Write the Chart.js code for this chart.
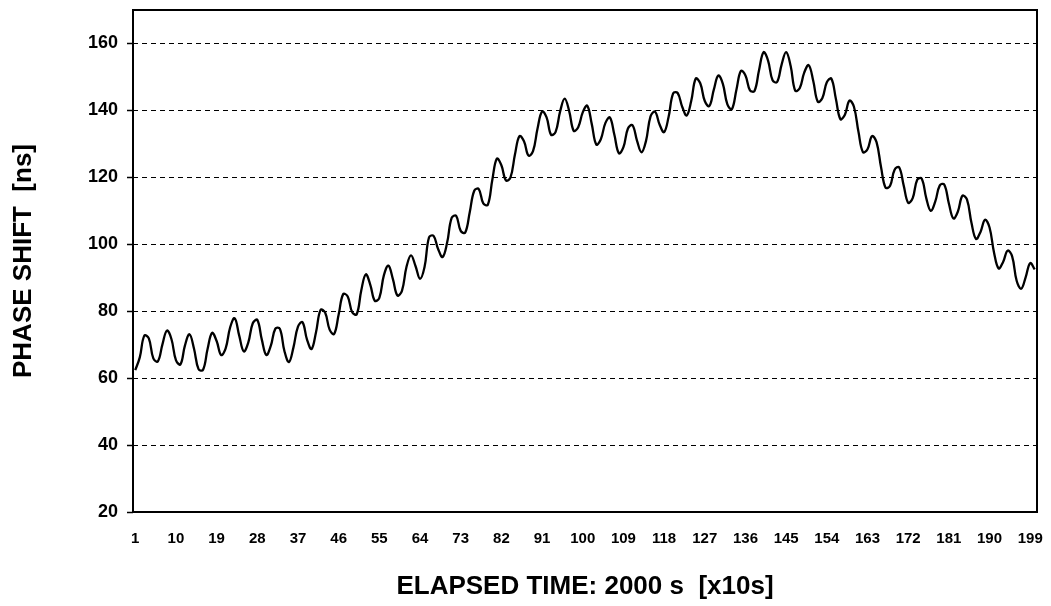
<!DOCTYPE html>
<html>
<head>
<meta charset="utf-8">
<script src="https://cdn.jsdelivr.net/npm/chart.js@4/dist/chart.umd.min.js"></script>
<style>
html,body{margin:0;padding:0;background:#fff;}
canvas{display:block;}
</style>
</head>
<body>
<canvas id="c" width="1051" height="606"></canvas>
<script>
// Categories: sample numbers 1..200 (x10 s)
const categories = [];
for (let i = 1; i <= 200; i++) categories.push(String(i));

// Tick labels shown on the x axis
const xTickLabels = ['1','10','19','28','37','46','55','64','73','82','91','100','109','118','127','136','145','154','163','172','181','190','199'];

// Y-axis tick values
const yTicks = [20, 40, 60, 80, 100, 120, 140, 160];

// Phase shift [ns]
const phaseShift = [
62.4,66.2,72.7,71.9,65.9,65.0,70.0,74.2,71.7,65.4,
64.1,69.8,73.1,68.8,62.7,62.5,68.7,73.5,71.1,66.9,
68.9,75.2,77.9,72.7,68.0,70.6,76.4,77.4,71.5,66.9,
69.7,74.8,74.7,68.1,64.8,69.2,75.4,76.7,71.5,68.7,
73.8,80.4,79.6,74.5,73.2,79.0,85.1,84.4,79.7,79.1,
86.2,91.0,87.9,83.1,84.0,90.7,93.6,89.6,84.7,86.1,
93.2,96.7,93.5,89.7,93.2,102.1,102.5,98.6,96.2,100.5,
107.9,108.5,104.0,103.5,109.6,116.0,116.5,112.2,111.8,119.3,
125.6,123.6,119.1,119.9,126.8,132.3,130.8,126.5,127.8,134.6,
139.7,137.9,132.7,133.6,139.7,143.5,139.8,133.9,135.0,139.4,
141.4,135.9,129.8,131.4,136.2,137.9,132.7,127.2,129.0,134.6,
135.6,131.0,127.5,130.9,138.2,139.6,135.8,133.5,138.1,145.1,
145.2,141.1,138.5,142.8,149.5,148.1,142.8,141.3,146.2,150.4,
147.9,141.8,140.4,146.2,151.8,150.4,146.0,145.8,152.0,157.4,
154.9,149.0,148.5,153.7,157.4,153.3,145.9,146.6,151.3,153.5,
148.8,142.6,143.6,148.4,149.5,143.5,137.4,138.7,142.9,141.1,
133.6,127.5,128.4,132.3,130.5,123.0,116.9,117.5,122.3,123.0,
117.6,112.4,113.8,119.3,119.6,113.8,110.0,112.8,117.6,117.8,
112.2,107.7,109.8,114.5,113.4,106.4,101.6,103.7,107.3,105.0,
97.5,92.8,94.7,98.1,96.4,89.1,86.7,90.2,94.4,92.5
];

const yTitle = 'PHASE SHIFT  [ns]';
const xTitle = 'ELAPSED TIME: 2000 s  [x10s]';

const FONT = "'Liberation Sans', Arial, sans-serif";

const framePlugin = {
  id: 'frame',
  beforeDraw(chart) {
    const ctx = chart.ctx;
    ctx.save();
    ctx.fillStyle = '#fff';
    ctx.fillRect(0, 0, chart.width, chart.height);
    ctx.restore();
  },
  afterDraw(chart) {
    const a = chart.chartArea;
    const ctx = chart.ctx;
    ctx.save();
    ctx.strokeStyle = '#000';
    ctx.lineWidth = 2;
    ctx.setLineDash([]);
    ctx.strokeRect(a.left, a.top, a.right - a.left, a.bottom - a.top);
    ctx.restore();
  }
};

new Chart(document.getElementById('c'), {
  type: 'line',
  data: {
    labels: categories,
    datasets: [{
      data: phaseShift,
      borderColor: '#000',
      borderWidth: 2.3,
      pointRadius: 0,
      tension: 0.4,
      fill: false
    }]
  },
  options: {
    responsive: false,
    animation: false,
    layout: { padding: { top: 10, right: 14, left: 0, bottom: 0 } },
    plugins: { legend: { display: false }, tooltip: { enabled: false } },
    scales: {
      x: {
        type: 'category',
        offset: true,
        grid: { display: false, drawTicks: false },
        border: { display: false },
        ticks: {
          autoSkip: false,
          maxRotation: 0,
          minRotation: 0,
          padding: 18,
          color: '#000',
          font: { family: FONT, size: 15, weight: 'bold' },
          callback: function(v, i) {
            const lab = categories[i];
            return xTickLabels.includes(lab) ? lab : '';
          }
        },
        title: {
          display: true,
          text: xTitle,
          color: '#000',
          font: { family: FONT, size: 26, weight: 'bold' },
          padding: { top: 0, bottom: 4 }
        },
        afterFit(scale) {
          scale.height = 94;
          scale.paddingLeft = 0;
          scale.paddingRight = 0;
        }
      },
      y: {
        min: 20,
        max: 170,
        grid: {
          color: (ctx) => (ctx.tick && ctx.tick.value === 20) ? 'rgba(0,0,0,0)' : '#000',
          lineWidth: 1,
          drawTicks: true,
          tickLength: 6,
          tickColor: '#000',
          tickBorderDash: [],
          tickWidth: 1.5
        },
        border: { display: false, dash: [5, 4] },
        afterBuildTicks(scale) {
          scale.ticks = yTicks.map(v => ({ value: v }));
        },
        ticks: {
          includeBounds: false,
          padding: 9,
          color: '#000',
          font: { family: FONT, size: 18, weight: 'bold' }
        },
        title: {
          display: true,
          text: yTitle,
          color: '#000',
          font: { family: FONT, size: 26, weight: 'bold' },
          padding: { top: 8, bottom: 0 }
        },
        afterFit(scale) {
          scale.width = 133;
          scale.paddingTop = 0;
          scale.paddingBottom = 0;
        }
      }
    }
  },
  plugins: [framePlugin]
});
</script>
</body>
</html>
